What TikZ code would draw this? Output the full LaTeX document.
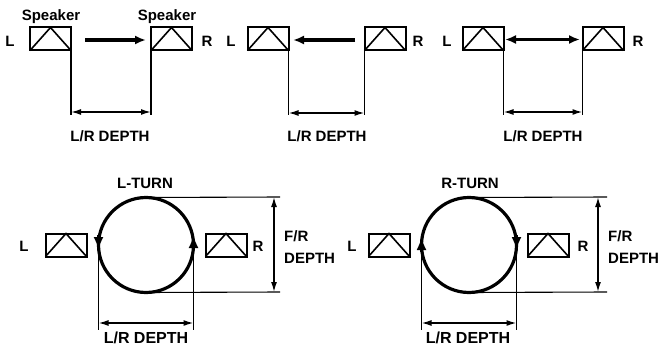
\documentclass[tikz,border=0pt]{standalone}
\usepackage{fontspec}
\setmainfont{Liberation Sans}
\usetikzlibrary{arrows.meta}
\begin{document}
\begin{tikzpicture}[x=1pt,y=-1pt,
  spk/.style={draw, line width=2pt, minimum width=41pt, minimum height=23pt, inner sep=0pt, outer sep=0pt},
  tri/.style={line width=1.6pt},
  lbl/.style={font=\fontsize{15}{22}\selectfont\bfseries, inner sep=0pt, anchor=base},
  biglbl/.style={font=\fontsize{16}{22}\selectfont\bfseries, inner sep=0pt, anchor=base},
  move/.style={line width=3.2pt, -{Latex[length=11pt,width=9pt]}},
  movetwo/.style={line width=3.2pt, {Latex[length=11pt,width=9pt]}-{Latex[length=11pt,width=9pt]}},
  ext/.style={line width=1.1pt},
  dim/.style={line width=1.5pt, {Latex[length=10pt,width=6pt]}-{Latex[length=10pt,width=6pt]}},
  ring/.style={circle, draw, line width=3.2pt, minimum size=95pt, inner sep=0pt, outer sep=0pt},
  carr/.style={line width=3pt, -{Latex[length=13pt,width=10pt]}}
]
\useasboundingbox (0,0) rectangle (658,350);

% ---------- Panel 1 ----------
\node[spk] (L1) at (50.5,39) {};
\node[spk] (R1) at (171.5,39) {};
\foreach \b in {L1,R1} \draw[tri] (\b.south west) -- (\b.north) -- (\b.south east);
\node[lbl] (s1) at (51,20.5) {Speaker};
\node[lbl] (s2) at (167,20.5) {Speaker};
\node[lbl] (l1) at (10,46.5) {L};
\node[lbl] (r1) at (207,46.5) {R};
\coordinate (a1s) at (85,40);
\coordinate (a1e) at (146,40);
\draw[move] (a1s) -- (a1e);
\coordinate (e1a) at (L1.south east |- 0,115);
\coordinate (e1b) at (R1.south west |- 0,115);
\draw[ext] (L1.south east) -- (e1a);
\draw[ext] (R1.south west) -- (e1b);
\coordinate (d1a) at (L1.south east |- 0,112);
\coordinate (d1b) at (R1.south west |- 0,112);
\draw[dim] (d1a) -- (d1b);
\node[lbl] (t1) at (110,141.5) {L/R DEPTH};

% ---------- Panel 2 ----------
\node[spk] (L2) at (268,39) {};
\node[spk] (R2) at (385,39) {};
\foreach \b in {L2,R2} \draw[tri] (\b.south west) -- (\b.north) -- (\b.south east);
\node[lbl] (l2) at (231,46.5) {L};
\node[lbl] (r2) at (418,46.5) {R};
\coordinate (a2s) at (355,40);
\coordinate (a2e) at (293,40);
\draw[move] (a2s) -- (a2e);
\coordinate (e2a) at (L2.south east |- 0,115);
\coordinate (e2b) at (R2.south west |- 0,115);
\draw[ext] (L2.south east) -- (e2a);
\draw[ext] (R2.south west) -- (e2b);
\coordinate (d2a) at (L2.south east |- 0,113);
\coordinate (d2b) at (R2.south west |- 0,113);
\draw[dim] (d2a) -- (d2b);
\node[lbl] (t2) at (327,141.5) {L/R DEPTH};

% ---------- Panel 3 ----------
\node[spk] (L3) at (483,39) {};
\node[spk] (R3) at (603,39) {};
\foreach \b in {L3,R3} \draw[tri] (\b.south west) -- (\b.north) -- (\b.south east);
\node[lbl] (l3) at (447,46.5) {L};
\node[lbl] (r3) at (638,46.5) {R};
\coordinate (a3s) at (505,39.5);
\coordinate (a3e) at (580,39.5);
\draw[movetwo] (a3s) -- (a3e);
\coordinate (e3a) at (L3.south east |- 0,115);
\coordinate (e3b) at (R3.south west |- 0,115);
\draw[ext] (L3.south east) -- (e3a);
\draw[ext] (R3.south west) -- (e3b);
\coordinate (d3a) at (L3.south east |- 0,112);
\coordinate (d3b) at (R3.south west |- 0,112);
\draw[dim] (d3a) -- (d3b);
\node[lbl] (t3) at (543,141.5) {L/R DEPTH};

% ---------- Panel 4 (L-TURN) ----------
\node[ring] (c4) at (146,245) {};
\node[spk] (L4) at (66,245) {};
\node[spk] (R4) at (226,245) {};
\foreach \b in {L4,R4} \draw[tri] (\b.south west) -- (\b.north) -- (\b.south east);
\node[lbl] (l4) at (24,251.5) {L};
\node[lbl] (r4) at (258,251.5) {R};
\node[lbl] (n4) at (145,188) {L-TURN};
\draw[carr] (c4.west) ++(0,-10) -- ++(0,15);
\draw[carr] (c4.east) ++(0,5) -- ++(0,-15);
\coordinate (h4a) at (280,197);
\coordinate (h4b) at (280,292);
\draw[ext] (c4.north) -- (h4a);
\draw[ext] (c4.south) -- (h4b);
\coordinate (v4a) at (274,197);
\coordinate (v4b) at (274,292);
\draw[dim] (v4a) -- (v4b);
\node[lbl, anchor=base west] (f4) at (284,241) {F/R};
\node[lbl, anchor=base west] (g4) at (284,263) {DEPTH};
\coordinate (x4a) at (c4.west |- 0,330);
\coordinate (x4b) at (c4.east |- 0,330);
\draw[ext] (c4.west) -- (x4a);
\draw[ext] (c4.east) -- (x4b);
\coordinate (y4a) at (c4.west |- 0,323);
\coordinate (y4b) at (c4.east |- 0,323);
\draw[dim] (y4a) -- (y4b);
\node[biglbl] (t4) at (146,343) {L/R DEPTH};

% ---------- Panel 5 (R-TURN) ----------
\node[ring] (c5) at (469,245) {};
\node[spk] (L5) at (389,245) {};
\node[spk] (R5) at (548,245) {};
\foreach \b in {L5,R5} \draw[tri] (\b.south west) -- (\b.north) -- (\b.south east);
\node[lbl] (l5) at (352,251.5) {L};
\node[lbl] (r5) at (583,251.5) {R};
\node[lbl] (n5) at (470,188) {R-TURN};
\draw[carr] (c5.west) ++(0,7) -- ++(0,-15);
\draw[carr] (c5.east) ++(0,-10) -- ++(0,15);
\coordinate (h5a) at (607,197);
\coordinate (h5b) at (607,292);
\draw[ext] (c5.north) -- (h5a);
\draw[ext] (c5.south) -- (h5b);
\coordinate (v5a) at (598,197);
\coordinate (v5b) at (598,292);
\draw[dim] (v5a) -- (v5b);
\node[lbl, anchor=base west] (f5) at (608,241) {F/R};
\node[lbl, anchor=base west] (g5) at (608,263) {DEPTH};
\coordinate (x5a) at (c5.west |- 0,330);
\coordinate (x5b) at (c5.east |- 0,330);
\draw[ext] (c5.west) -- (x5a);
\draw[ext] (c5.east) -- (x5b);
\coordinate (y5a) at (c5.west |- 0,323);
\coordinate (y5b) at (c5.east |- 0,323);
\draw[dim] (y5a) -- (y5b);
\node[biglbl] (t5) at (468,343) {L/R DEPTH};
\end{tikzpicture}
\end{document}
